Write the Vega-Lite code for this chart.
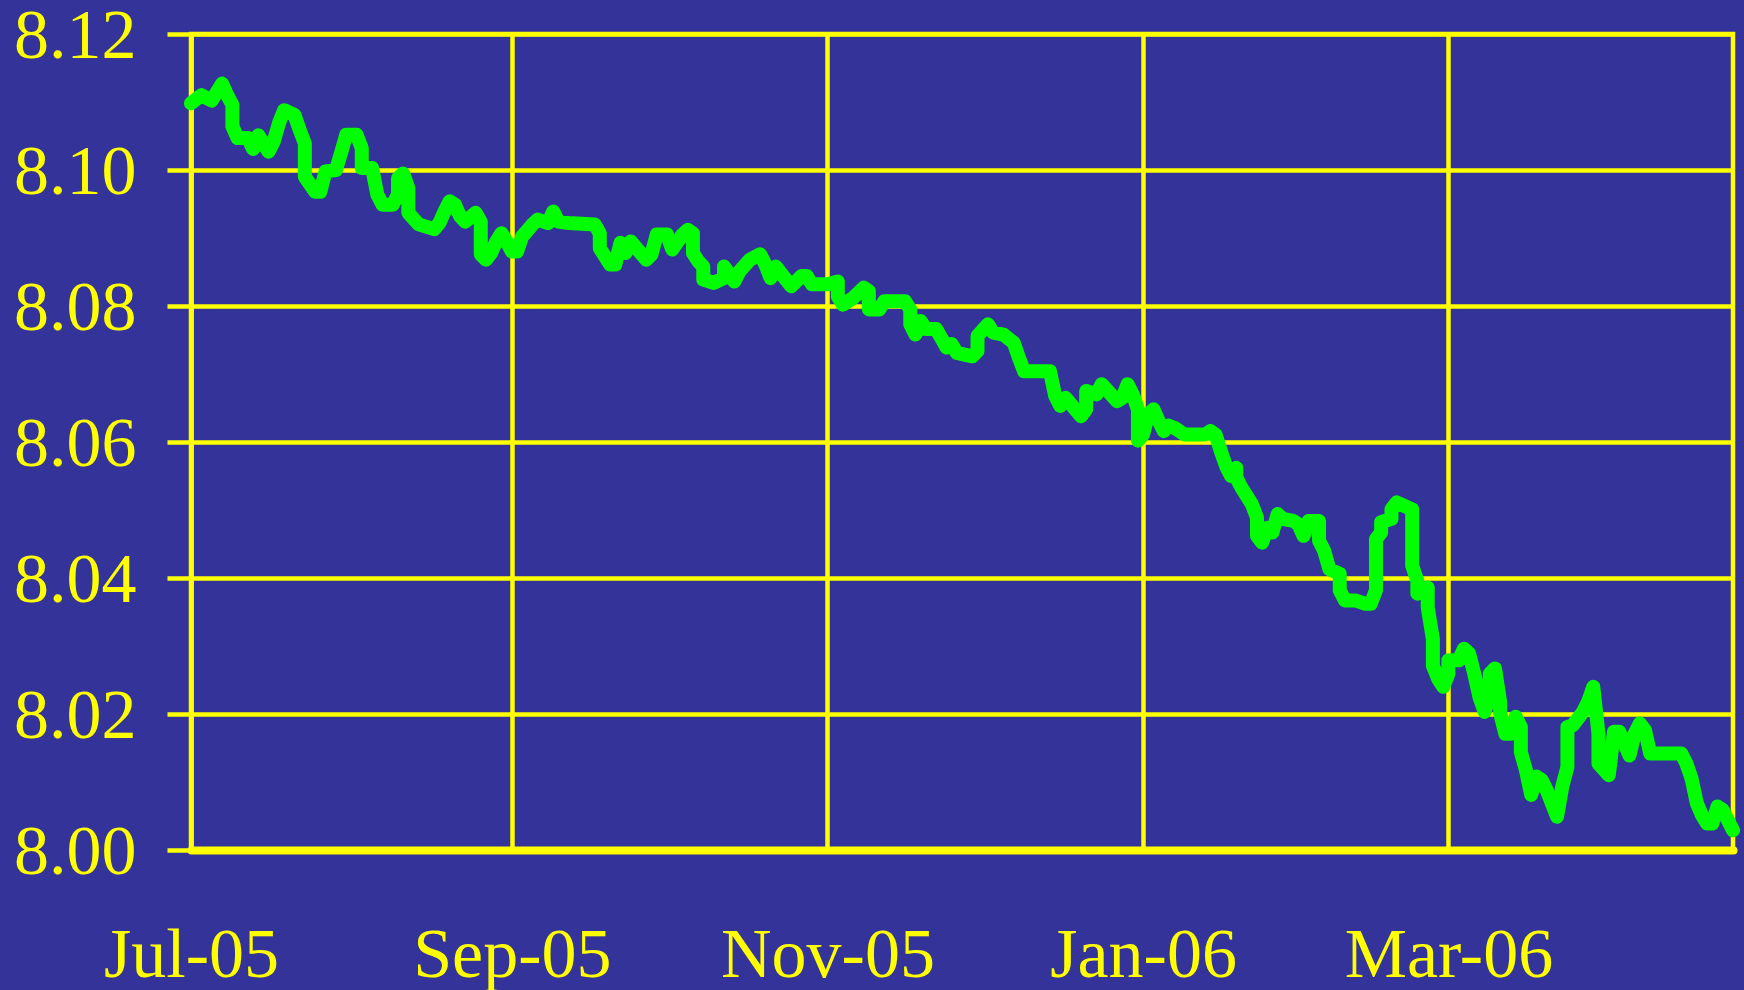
{
  "$schema": "https://vega.github.io/schema/vega-lite/v6.json",
  "width": 1542,
  "height": 816,
  "autosize": {"type": "none"},
  "padding": {"left": 191, "top": 34, "right": 11, "bottom": 140},
  "background": "#333399",
  "config": {
    "view": {"stroke": "#FFFF00", "strokeWidth": 4.5, "fill": "#333399"},
    "font": "Liberation Serif"
  },
  "data": {
    "values": [
      {"date": "2005-07-21", "rate": 8.1098},
      {"date": "2005-07-23", "rate": 8.1110},
      {"date": "2005-07-25", "rate": 8.1102},
      {"date": "2005-07-27", "rate": 8.1127},
      {"date": "2005-07-28", "rate": 8.1110},
      {"date": "2005-07-29", "rate": 8.1096},
      {"date": "2005-07-29", "rate": 8.1064},
      {"date": "2005-07-30", "rate": 8.1047},
      {"date": "2005-08-01", "rate": 8.1047},
      {"date": "2005-08-02", "rate": 8.1031},
      {"date": "2005-08-03", "rate": 8.1051},
      {"date": "2005-08-05", "rate": 8.1027},
      {"date": "2005-08-06", "rate": 8.1042},
      {"date": "2005-08-07", "rate": 8.1069},
      {"date": "2005-08-08", "rate": 8.1088},
      {"date": "2005-08-10", "rate": 8.1081},
      {"date": "2005-08-11", "rate": 8.1059},
      {"date": "2005-08-12", "rate": 8.1039},
      {"date": "2005-08-12", "rate": 8.0990},
      {"date": "2005-08-14", "rate": 8.0968},
      {"date": "2005-08-15", "rate": 8.0968},
      {"date": "2005-08-16", "rate": 8.0998},
      {"date": "2005-08-18", "rate": 8.1000},
      {"date": "2005-08-19", "rate": 8.1025},
      {"date": "2005-08-20", "rate": 8.1052},
      {"date": "2005-08-22", "rate": 8.1052},
      {"date": "2005-08-23", "rate": 8.1032},
      {"date": "2005-08-23", "rate": 8.1003},
      {"date": "2005-08-25", "rate": 8.1003},
      {"date": "2005-08-26", "rate": 8.0964},
      {"date": "2005-08-27", "rate": 8.0949},
      {"date": "2005-08-29", "rate": 8.0949},
      {"date": "2005-08-30", "rate": 8.0964},
      {"date": "2005-08-30", "rate": 8.0988},
      {"date": "2005-08-31", "rate": 8.0995},
      {"date": "2005-09-01", "rate": 8.0973},
      {"date": "2005-09-01", "rate": 8.0937},
      {"date": "2005-09-03", "rate": 8.0920},
      {"date": "2005-09-06", "rate": 8.0913},
      {"date": "2005-09-07", "rate": 8.0922},
      {"date": "2005-09-08", "rate": 8.0939},
      {"date": "2005-09-09", "rate": 8.0954},
      {"date": "2005-09-10", "rate": 8.0949},
      {"date": "2005-09-11", "rate": 8.0932},
      {"date": "2005-09-12", "rate": 8.0924},
      {"date": "2005-09-14", "rate": 8.0937},
      {"date": "2005-09-15", "rate": 8.0924},
      {"date": "2005-09-15", "rate": 8.0876},
      {"date": "2005-09-16", "rate": 8.0868},
      {"date": "2005-09-17", "rate": 8.0878},
      {"date": "2005-09-18", "rate": 8.0895},
      {"date": "2005-09-19", "rate": 8.0907},
      {"date": "2005-09-20", "rate": 8.0895},
      {"date": "2005-09-21", "rate": 8.0880},
      {"date": "2005-09-22", "rate": 8.0880},
      {"date": "2005-09-23", "rate": 8.0902},
      {"date": "2005-09-25", "rate": 8.0920},
      {"date": "2005-09-26", "rate": 8.0927},
      {"date": "2005-09-28", "rate": 8.0922},
      {"date": "2005-09-29", "rate": 8.0939},
      {"date": "2005-09-30", "rate": 8.0924},
      {"date": "2005-10-02", "rate": 8.0922},
      {"date": "2005-10-07", "rate": 8.0920},
      {"date": "2005-10-08", "rate": 8.0907},
      {"date": "2005-10-08", "rate": 8.0885},
      {"date": "2005-10-10", "rate": 8.0861},
      {"date": "2005-10-11", "rate": 8.0861},
      {"date": "2005-10-12", "rate": 8.0893},
      {"date": "2005-10-13", "rate": 8.0878},
      {"date": "2005-10-14", "rate": 8.0895},
      {"date": "2005-10-17", "rate": 8.0868},
      {"date": "2005-10-18", "rate": 8.0876},
      {"date": "2005-10-19", "rate": 8.0905},
      {"date": "2005-10-21", "rate": 8.0905},
      {"date": "2005-10-22", "rate": 8.0883},
      {"date": "2005-10-24", "rate": 8.0905},
      {"date": "2005-10-25", "rate": 8.0912},
      {"date": "2005-10-26", "rate": 8.0907},
      {"date": "2005-10-26", "rate": 8.0878},
      {"date": "2005-10-27", "rate": 8.0866},
      {"date": "2005-10-28", "rate": 8.0858},
      {"date": "2005-10-28", "rate": 8.0839},
      {"date": "2005-10-30", "rate": 8.0834},
      {"date": "2005-11-01", "rate": 8.0841},
      {"date": "2005-11-01", "rate": 8.0858},
      {"date": "2005-11-03", "rate": 8.0836},
      {"date": "2005-11-04", "rate": 8.0851},
      {"date": "2005-11-06", "rate": 8.0868},
      {"date": "2005-11-08", "rate": 8.0876},
      {"date": "2005-11-09", "rate": 8.0861},
      {"date": "2005-11-10", "rate": 8.0841},
      {"date": "2005-11-11", "rate": 8.0858},
      {"date": "2005-11-14", "rate": 8.0829},
      {"date": "2005-11-16", "rate": 8.0844},
      {"date": "2005-11-17", "rate": 8.0844},
      {"date": "2005-11-18", "rate": 8.0832},
      {"date": "2005-11-21", "rate": 8.0832},
      {"date": "2005-11-23", "rate": 8.0836},
      {"date": "2005-11-23", "rate": 8.0814},
      {"date": "2005-11-24", "rate": 8.0802},
      {"date": "2005-11-26", "rate": 8.0812},
      {"date": "2005-11-28", "rate": 8.0827},
      {"date": "2005-11-29", "rate": 8.0822},
      {"date": "2005-11-29", "rate": 8.0795},
      {"date": "2005-12-01", "rate": 8.0795},
      {"date": "2005-12-02", "rate": 8.0807},
      {"date": "2005-12-06", "rate": 8.0807},
      {"date": "2005-12-07", "rate": 8.0795},
      {"date": "2005-12-07", "rate": 8.0773},
      {"date": "2005-12-08", "rate": 8.0758},
      {"date": "2005-12-09", "rate": 8.0778},
      {"date": "2005-12-10", "rate": 8.0766},
      {"date": "2005-12-12", "rate": 8.0766},
      {"date": "2005-12-13", "rate": 8.0753},
      {"date": "2005-12-14", "rate": 8.0739},
      {"date": "2005-12-15", "rate": 8.0744},
      {"date": "2005-12-16", "rate": 8.0731},
      {"date": "2005-12-19", "rate": 8.0726},
      {"date": "2005-12-20", "rate": 8.0734},
      {"date": "2005-12-20", "rate": 8.0756},
      {"date": "2005-12-22", "rate": 8.0773},
      {"date": "2005-12-23", "rate": 8.0761},
      {"date": "2005-12-25", "rate": 8.0758},
      {"date": "2005-12-27", "rate": 8.0746},
      {"date": "2005-12-28", "rate": 8.0724},
      {"date": "2005-12-29", "rate": 8.0704},
      {"date": "2006-01-03", "rate": 8.0704},
      {"date": "2006-01-04", "rate": 8.0668},
      {"date": "2006-01-05", "rate": 8.0653},
      {"date": "2006-01-06", "rate": 8.0665},
      {"date": "2006-01-09", "rate": 8.0638},
      {"date": "2006-01-10", "rate": 8.0648},
      {"date": "2006-01-10", "rate": 8.0675},
      {"date": "2006-01-12", "rate": 8.0670},
      {"date": "2006-01-13", "rate": 8.0685},
      {"date": "2006-01-16", "rate": 8.0660},
      {"date": "2006-01-17", "rate": 8.0665},
      {"date": "2006-01-18", "rate": 8.0685},
      {"date": "2006-01-19", "rate": 8.0670},
      {"date": "2006-01-20", "rate": 8.0648},
      {"date": "2006-01-20", "rate": 8.0602},
      {"date": "2006-01-21", "rate": 8.0611},
      {"date": "2006-01-22", "rate": 8.0641},
      {"date": "2006-01-23", "rate": 8.0648},
      {"date": "2006-01-24", "rate": 8.0631},
      {"date": "2006-01-25", "rate": 8.0616},
      {"date": "2006-01-26", "rate": 8.0624},
      {"date": "2006-01-27", "rate": 8.0621},
      {"date": "2006-01-29", "rate": 8.0611},
      {"date": "2006-02-02", "rate": 8.0611},
      {"date": "2006-02-03", "rate": 8.0616},
      {"date": "2006-02-04", "rate": 8.0611},
      {"date": "2006-02-05", "rate": 8.0587},
      {"date": "2006-02-06", "rate": 8.0565},
      {"date": "2006-02-07", "rate": 8.0550},
      {"date": "2006-02-08", "rate": 8.0562},
      {"date": "2006-02-08", "rate": 8.0548},
      {"date": "2006-02-09", "rate": 8.0533},
      {"date": "2006-02-11", "rate": 8.0509},
      {"date": "2006-02-12", "rate": 8.0489},
      {"date": "2006-02-12", "rate": 8.0462},
      {"date": "2006-02-13", "rate": 8.0452},
      {"date": "2006-02-14", "rate": 8.0474},
      {"date": "2006-02-15", "rate": 8.0467},
      {"date": "2006-02-16", "rate": 8.0494},
      {"date": "2006-02-17", "rate": 8.0487},
      {"date": "2006-02-19", "rate": 8.0484},
      {"date": "2006-02-20", "rate": 8.0479},
      {"date": "2006-02-21", "rate": 8.0462},
      {"date": "2006-02-22", "rate": 8.0484},
      {"date": "2006-02-24", "rate": 8.0484},
      {"date": "2006-02-24", "rate": 8.0455},
      {"date": "2006-02-25", "rate": 8.0440},
      {"date": "2006-02-26", "rate": 8.0413},
      {"date": "2006-02-28", "rate": 8.0406},
      {"date": "2006-02-28", "rate": 8.0382},
      {"date": "2006-03-01", "rate": 8.0367},
      {"date": "2006-03-03", "rate": 8.0367},
      {"date": "2006-03-05", "rate": 8.0362},
      {"date": "2006-03-06", "rate": 8.0362},
      {"date": "2006-03-07", "rate": 8.0382},
      {"date": "2006-03-07", "rate": 8.0457},
      {"date": "2006-03-08", "rate": 8.0467},
      {"date": "2006-03-08", "rate": 8.0482},
      {"date": "2006-03-10", "rate": 8.0487},
      {"date": "2006-03-10", "rate": 8.0501},
      {"date": "2006-03-11", "rate": 8.0511},
      {"date": "2006-03-14", "rate": 8.0501},
      {"date": "2006-03-14", "rate": 8.0418},
      {"date": "2006-03-15", "rate": 8.0396},
      {"date": "2006-03-15", "rate": 8.0377},
      {"date": "2006-03-17", "rate": 8.0386},
      {"date": "2006-03-17", "rate": 8.0357},
      {"date": "2006-03-18", "rate": 8.0310},
      {"date": "2006-03-18", "rate": 8.0271},
      {"date": "2006-03-19", "rate": 8.0252},
      {"date": "2006-03-20", "rate": 8.0240},
      {"date": "2006-03-21", "rate": 8.0259},
      {"date": "2006-03-21", "rate": 8.0279},
      {"date": "2006-03-23", "rate": 8.0279},
      {"date": "2006-03-24", "rate": 8.0296},
      {"date": "2006-03-25", "rate": 8.0289},
      {"date": "2006-03-26", "rate": 8.0259},
      {"date": "2006-03-27", "rate": 8.0225},
      {"date": "2006-03-28", "rate": 8.0203},
      {"date": "2006-03-29", "rate": 8.0227},
      {"date": "2006-03-29", "rate": 8.0259},
      {"date": "2006-03-30", "rate": 8.0267},
      {"date": "2006-03-31", "rate": 8.0218},
      {"date": "2006-03-31", "rate": 8.0201},
      {"date": "2006-04-01", "rate": 8.0171},
      {"date": "2006-04-02", "rate": 8.0171},
      {"date": "2006-04-03", "rate": 8.0196},
      {"date": "2006-04-04", "rate": 8.0181},
      {"date": "2006-04-04", "rate": 8.0144},
      {"date": "2006-04-05", "rate": 8.0117},
      {"date": "2006-04-06", "rate": 8.0081},
      {"date": "2006-04-07", "rate": 8.0108},
      {"date": "2006-04-08", "rate": 8.0103},
      {"date": "2006-04-09", "rate": 8.0088},
      {"date": "2006-04-11", "rate": 8.0049},
      {"date": "2006-04-12", "rate": 8.0093},
      {"date": "2006-04-13", "rate": 8.0122},
      {"date": "2006-04-13", "rate": 8.0181},
      {"date": "2006-04-14", "rate": 8.0183},
      {"date": "2006-04-16", "rate": 8.0203},
      {"date": "2006-04-17", "rate": 8.0218},
      {"date": "2006-04-18", "rate": 8.0240},
      {"date": "2006-04-19", "rate": 8.0171},
      {"date": "2006-04-19", "rate": 8.0127},
      {"date": "2006-04-21", "rate": 8.0110},
      {"date": "2006-04-22", "rate": 8.0174},
      {"date": "2006-04-23", "rate": 8.0174},
      {"date": "2006-04-24", "rate": 8.0157},
      {"date": "2006-04-25", "rate": 8.0139},
      {"date": "2006-04-26", "rate": 8.0171},
      {"date": "2006-04-27", "rate": 8.0186},
      {"date": "2006-04-28", "rate": 8.0176},
      {"date": "2006-04-29", "rate": 8.0142},
      {"date": "2006-05-05", "rate": 8.0142},
      {"date": "2006-05-06", "rate": 8.0127},
      {"date": "2006-05-07", "rate": 8.0105},
      {"date": "2006-05-08", "rate": 8.0069},
      {"date": "2006-05-09", "rate": 8.0051},
      {"date": "2006-05-10", "rate": 8.0039},
      {"date": "2006-05-11", "rate": 8.0039},
      {"date": "2006-05-12", "rate": 8.0064},
      {"date": "2006-05-13", "rate": 8.0059},
      {"date": "2006-05-14", "rate": 8.0044},
      {"date": "2006-05-15", "rate": 8.0029}
    ]
  },
  "mark": {
    "type": "line",
    "color": "#00FF00",
    "strokeWidth": 14,
    "strokeJoin": "round",
    "strokeCap": "round"
  },
  "encoding": {
    "x": {
      "field": "date",
      "type": "temporal",
      "scale": {
        "type": "utc",
        "domain": [
          {"year": 2005, "month": "jul", "date": 21, "utc": true},
          {"year": 2006, "month": "may", "date": 15, "utc": true}
        ],
        "nice": false
      },
      "axis": {
        "title": null,
        "values": [
          {"year": 2005, "month": "jul", "date": 21, "utc": true},
          {"year": 2005, "month": "sep", "date": 21, "utc": true},
          {"year": 2005, "month": "nov", "date": 21, "utc": true},
          {"year": 2006, "month": "jan", "date": 21, "utc": true},
          {"year": 2006, "month": "mar", "date": 21, "utc": true}
        ],
        "labelExpr": "utcFormat(datum.value, '%b-%y')",
        "labelFont": "Liberation Serif",
        "labelFontSize": 70,
        "labelColor": "#FFFF00",
        "labelBaseline": "alphabetic",
        "labelAlign": "center",
        "labelPadding": 126,
        "labelLimit": 1000,
        "labelFlush": false,
        "labelOverlap": false,
        "ticks": false,
        "domainColor": "#FFFF00",
        "domainWidth": 8,
        "domainCap": "round",
        "grid": true,
        "gridColor": "#FFFF00",
        "gridWidth": 4.5,
        "gridOpacity": 1
      }
    },
    "y": {
      "field": "rate",
      "type": "quantitative",
      "scale": {"domain": [8.0, 8.12], "nice": false, "zero": false},
      "axis": {
        "title": null,
        "values": [8.0, 8.02, 8.04, 8.06, 8.08, 8.1, 8.12],
        "format": ".2f",
        "labelFont": "Liberation Serif",
        "labelFontSize": 70,
        "labelColor": "#FFFF00",
        "labelAlign": "right",
        "labelBaseline": "middle",
        "labelPadding": 31,
        "labelOffset": 2,
        "labelLimit": 1000,
        "labelOverlap": false,
        "labelFlush": false,
        "ticks": true,
        "tickSize": 24,
        "tickWidth": 4.5,
        "tickColor": "#FFFF00",
        "domainColor": "#FFFF00",
        "domainWidth": 4.5,
        "grid": true,
        "gridColor": "#FFFF00",
        "gridWidth": 4.5,
        "gridOpacity": 1
      }
    }
  }
}
